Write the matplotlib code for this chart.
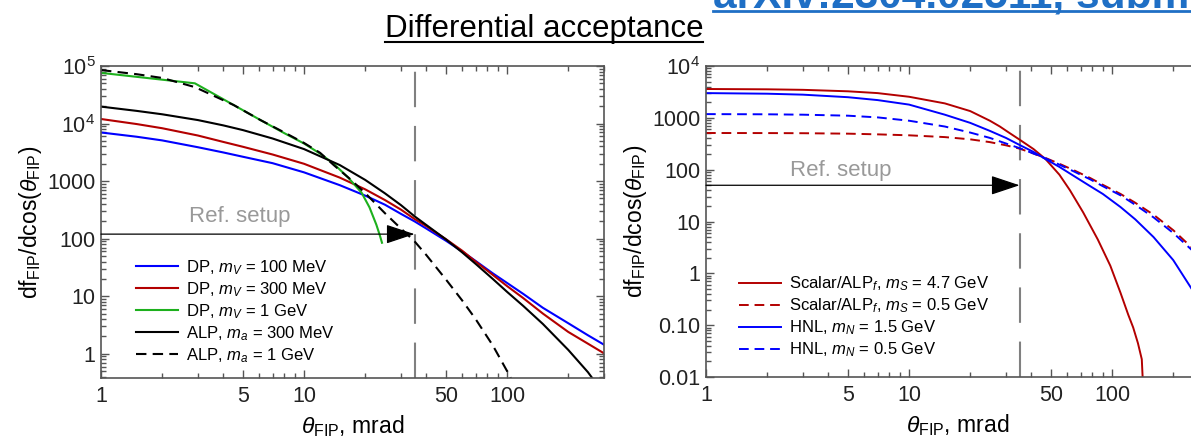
import matplotlib
matplotlib.use('Agg')
import matplotlib.pyplot as plt
from matplotlib.lines import Line2D
from matplotlib.ticker import NullFormatter

plt.rcParams['font.family'] = ['Liberation Sans', 'DejaVu Sans']
plt.rcParams['mathtext.fontset'] = 'custom'
plt.rcParams['mathtext.rm'] = 'Liberation Sans'
plt.rcParams['mathtext.it'] = 'Liberation Sans:italic'
plt.rcParams['mathtext.bf'] = 'Liberation Sans:bold'

# -------------------------------------------------------------------
# left panel: dark photons and ALPs
theta = [1, 1.5, 2, 3, 4, 5, 7, 10, 15, 20, 25, 30, 35, 40, 50, 60, 70, 85,
         100, 120, 150, 200, 250, 300]
dp_100mev = [7000, 5900, 5100, 3880, 3150, 2650, 2050, 1420, 850, 560, 390,
             270, 200, 150, 92, 60, 41, 25, 17, 11, 6.3, 3.4, 2.1, 1.44]
dp_300mev = [12000, 9800, 8300, 6200, 4800, 3950, 2900, 2000, 1150, 720, 470,
             320, 220, 165, 98, 62, 40, 23.5, 15, 9.3, 5.0, 2.4, 1.5, 1.02]
alp_300mev = [19700, 16600, 14500, 11500, 9300, 7700, 5500, 3600, 1900, 1050,
              615, 383, 245, 173, 97, 58, 36.5, 20, 11.9, 6.8, 3.3, 1.17, 0.48, 0.2]

theta_dp1gev = [1, 2.9, 4.5, 6.1, 8, 10, 12, 14, 16.5, 19.2, 21, 22.7, 23.6, 24.2]
dp_1gev = [76000, 50000, 21000, 11500, 6800, 4500, 3000, 2000, 1150, 630,
           350, 175, 115, 85]

theta_alp1gev = [1, 1.5, 2, 2.9, 4.5, 6.1, 8, 10, 12, 14, 17, 20, 25, 30, 35,
                 40, 50, 60, 70, 85, 100, 105]
alp_1gev = [85000, 72000, 62000, 43000, 21000, 11500, 7000, 4600, 3100, 1900,
            1060, 620, 278, 150, 90, 52, 19.5, 8.5, 4, 1.4, 0.5, 0.36]

# right panel: scalars and HNLs
theta_r = [1, 2, 3, 5, 7, 10, 15, 20, 25, 30, 35, 41, 47, 55, 65, 78, 90, 110,
           130, 160, 200, 250]
hnl_1p5gev = [3000, 2920, 2800, 2500, 2200, 1800, 1150, 800, 560, 410, 300,
              220, 160, 113, 75, 48, 34, 19, 11, 5, 1.8, 0.46]
hnl_0p5gev = [1180, 1170, 1150, 1100, 1020, 880, 680, 520, 410, 320, 260, 205,
              165, 125, 92, 65, 48, 32, 21, 12, 6, 2.7]
scalar_0p5gev = [510, 508, 505, 495, 480, 460, 425, 385, 340, 295, 255, 205,
                 168, 130, 97, 69, 51, 34, 23, 13.5, 6.8, 3.0]

theta_s47 = [1, 2, 3, 5, 7, 10, 15, 20, 25, 28, 31, 35, 41, 47, 55, 62, 72, 85,
             98, 110, 120, 127, 134, 140, 142.5]
scalar_4p7gev = [3600, 3550, 3470, 3250, 3000, 2550, 1900, 1350, 880, 680, 520,
                 380, 250, 160, 80, 40, 15, 4.5, 1.4, 0.42, 0.16, 0.09, 0.045,
                 0.022, 0.005]

theta_ref = 35        # reference setup angular cut, mrad
ref_level_left = 120
ref_level_right = 50

x_major = [1, 5, 10, 50, 100]
x_labels = ['1', '5', '10', '50', '100']
x_minor = [2, 3, 4, 6, 7, 8, 9, 20, 30, 40, 60, 70, 80, 90, 200, 300]

yticks_left = [1, 10, 100, 1000, 1e4, 1e5]
ylabels_left = ['1', '10', '100', '1000', '$10^{4}$', '$10^{5}$']
yticks_right = [0.01, 0.1, 1, 10, 100, 1000, 1e4]
ylabels_right = ['0.01', '0.10', '1', '10', '100', '1000', '$10^{4}$']

BLUE = '#0000FF'
RED = '#B30000'
GREEN = '#1DB01D'
FRAME = '#555555'


# -------------------------------------------------------------------
def style_axes(ax, ylim, yticks, ylabels):
    ax.set_xscale('log')
    ax.set_yscale('log')
    ax.set_xlim(1, 300)
    ax.set_ylim(*ylim)
    ax.set_xticks(x_major, labels=x_labels)
    ax.set_xticks(x_minor, minor=True)
    ax.xaxis.set_minor_formatter(NullFormatter())
    ax.set_yticks(yticks, labels=ylabels)
    yminor = [m * t for t in [0.01, 0.1, 1, 10, 100, 1000, 1e4]
              for m in range(2, 10) if ylim[0] <= m * t <= ylim[1]]
    ax.set_yticks(yminor, minor=True)
    ax.yaxis.set_minor_formatter(NullFormatter())
    ax.tick_params(which='both', direction='in', top=True, right=True,
                   color=FRAME, width=1.0, labelsize=15.5, labelcolor='#222222',
                   pad=4)
    ax.tick_params(axis='x', which='major', pad=6)
    ax.tick_params(which='major', length=6)
    ax.tick_params(which='minor', length=3.5)
    for sp in ax.spines.values():
        sp.set_color(FRAME)
        sp.set_linewidth(1.2)
    ax.set_xlabel(r'$\theta_{\mathrm{FIP}}$, mrad', fontsize=16.5, labelpad=4.5)
    ax.set_ylabel(r'df$_{\mathrm{FIP}}$/dcos($\theta_{\mathrm{FIP}}$)',
                  fontsize=16.5, labelpad=2)
    ax.axvline(theta_ref, color='#808080', lw=1.5, dashes=(17, 9))


def ref_arrow(ax, level, text_x, text_level):
    ax.annotate('', xy=(theta_ref, level), xytext=(1, level),
                arrowprops=dict(arrowstyle='-|>,head_length=0.9,head_width=0.3',
                                color='black', lw=0.9, shrinkA=0, shrinkB=0,
                                mutation_scale=20))
    ax.text(text_x, text_level, 'Ref. setup', color='#999999', fontsize=16,
            ha='center', va='center')


# -------------------------------------------------------------------
fig = plt.figure(figsize=(11.91, 4.38), dpi=100)

ax1 = fig.add_axes([101 / 1191, 60 / 438, 503 / 1191, 312 / 438])
style_axes(ax1, (0.38, 1e5), yticks_left, ylabels_left)
lw = 1.5
ax1.plot(theta, dp_100mev, color=BLUE, lw=lw, label='DP, $m_V$ = 100 MeV')
ax1.plot(theta, dp_300mev, color=RED, lw=lw, label='DP, $m_V$ = 300 MeV')
ax1.plot(theta_dp1gev, dp_1gev, color=GREEN, lw=lw, label='DP, $m_V$ = 1 GeV')
ax1.plot(theta, alp_300mev, color='black', lw=lw, label='ALP, $m_a$ = 300 MeV')
ax1.plot(theta_alp1gev, alp_1gev, color='black', lw=lw, dashes=(5, 3),
         label='ALP, $m_a$ = 1 GeV')
ref_arrow(ax1, ref_level_left, 4.8, 240)
ax1.legend(loc='upper left', bbox_to_anchor=(0.07, 0.385), frameon=False,
           fontsize=12, handlelength=2.5, handletextpad=0.5, labelspacing=0.2,
           borderpad=0, borderaxespad=0)

ax2 = fig.add_axes([706 / 1191, 61 / 438, 503 / 1191, 311 / 438])
style_axes(ax2, (0.01, 1e4), yticks_right, ylabels_right)
lw = 1.4
ax2.plot(theta_s47, scalar_4p7gev, color=RED, lw=lw,
         label='Scalar/ALP$_f$, $m_S$ = 4.7 GeV')
ax2.plot(theta_r, scalar_0p5gev, color=RED, lw=lw, dashes=(5, 3),
         label='Scalar/ALP$_f$, $m_S$ = 0.5 GeV')
ax2.plot(theta_r, hnl_1p5gev, color=BLUE, lw=lw, label='HNL, $m_N$ = 1.5 GeV')
ax2.plot(theta_r, hnl_0p5gev, color=BLUE, lw=lw, dashes=(5, 3),
         label='HNL, $m_N$ = 0.5 GeV')
ref_arrow(ax2, ref_level_right, 4.6, 95)
ax2.legend(loc='upper left', bbox_to_anchor=(0.066, 0.33), frameon=False,
           fontsize=12, handlelength=2.5, handletextpad=0.5, labelspacing=0.2,
           borderpad=0, borderaxespad=0)

# slide header: underlined title and link
title = fig.text(544 / 1191, 1 - 37 / 438, 'Differential acceptance',
                 fontsize=22.5, ha='center', va='baseline', color='black')
link = fig.text(713 / 1191, 1 - 8 / 438, 'arXiv:2304.02511, submitted',
                fontsize=30.5, fontweight='bold', ha='left', va='baseline',
                color='#1F6FC5')

fig.canvas.draw()
renderer = fig.canvas.get_renderer()
for txt, dy, col, w in [(title, 5, 'black', 1.5), (link, 3, '#1F6FC5', 2.0)]:
    bb = txt.get_window_extent(renderer)
    y = txt.get_position()[1] * fig.bbox.height - dy
    fig.add_artist(Line2D([bb.x0 / fig.bbox.width, bb.x1 / fig.bbox.width],
                          [y / fig.bbox.height] * 2, color=col, lw=w,
                          transform=fig.transFigure))

fig.savefig('out.png', dpi=100)
